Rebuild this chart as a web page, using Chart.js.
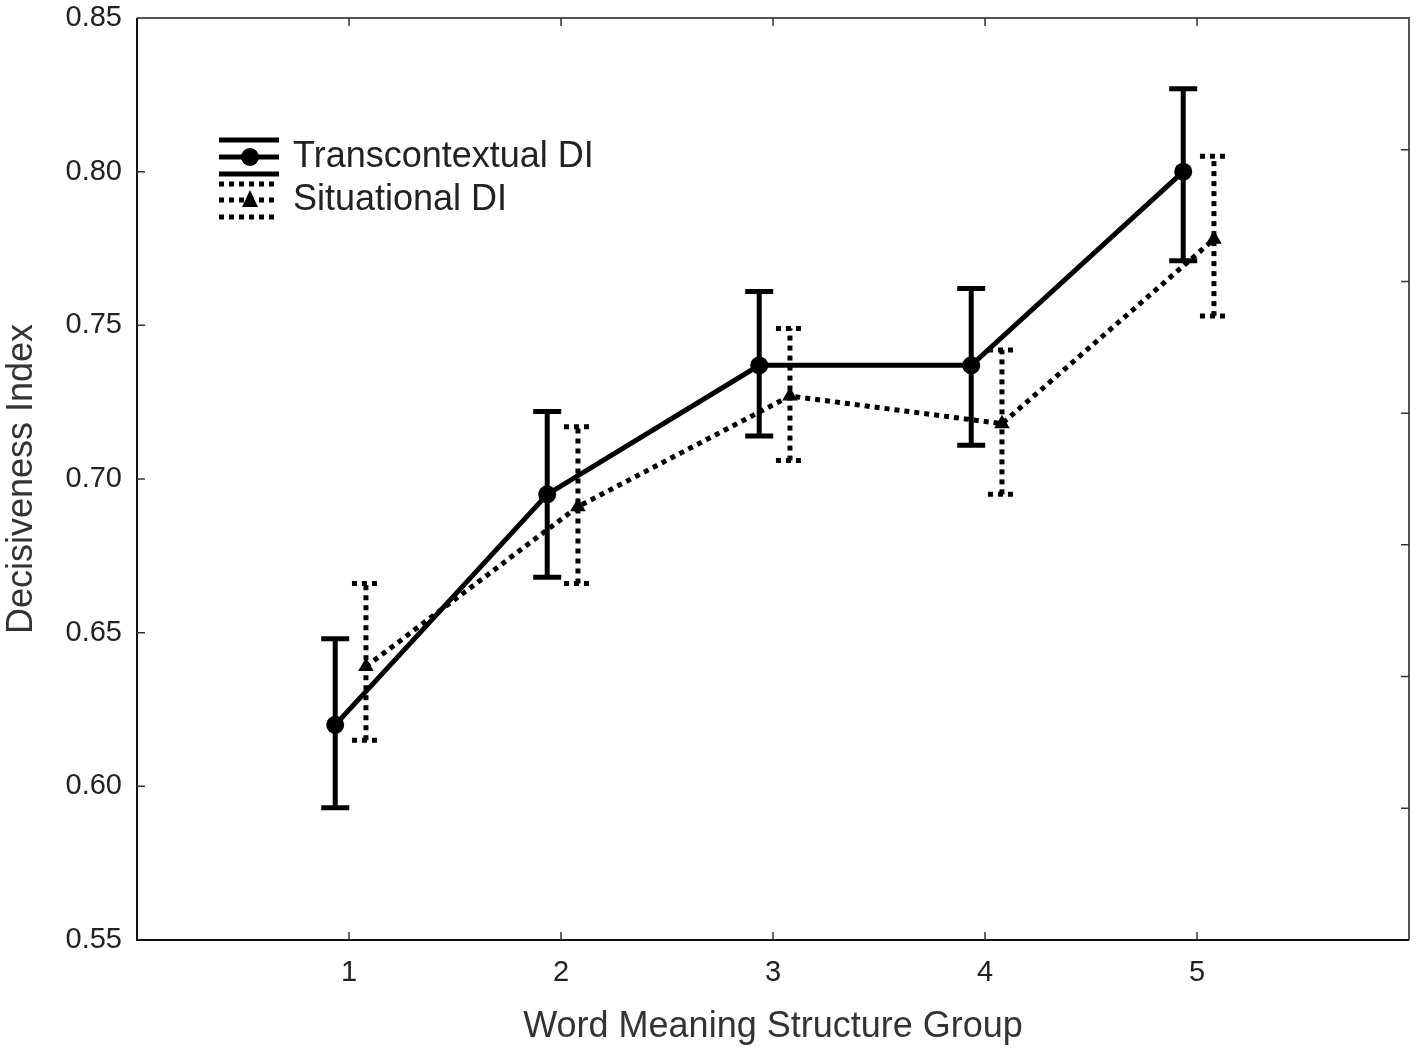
<!DOCTYPE html>
<html>
<head>
<meta charset="utf-8">
<script src="https://cdn.jsdelivr.net/npm/chart.js@4.4.1/dist/chart.umd.min.js"></script>
<style>
  html, body { margin: 0; padding: 0; background: #fff; }
  canvas { display: block; }
</style>
</head>
<body>
<canvas id="chart" width="1418" height="1057"></canvas>
<script>
// Data
const groups = [1, 2, 3, 4, 5];
const yTicks = [0.55, 0.60, 0.65, 0.70, 0.75, 0.80, 0.85];

const transMean = [0.620, 0.695, 0.737, 0.737, 0.800];
const transLow  = [0.593, 0.668, 0.714, 0.711, 0.771];
const transHigh = [0.648, 0.722, 0.761, 0.762, 0.827];

const sitMean = [0.639, 0.691, 0.727, 0.718, 0.778];
const sitLow  = [0.615, 0.666, 0.706, 0.695, 0.753];
const sitHigh = [0.666, 0.717, 0.749, 0.742, 0.805];

// horizontal dodge so the two series do not overlap
const transShift = -0.065;
const sitShift = 0.08;

Chart.defaults.font.family = "'Liberation Sans', Arial, sans-serif";
Chart.defaults.color = '#222';

function points(shift, vals) {
    return groups.map((g, i) => ({ x: g + shift, y: vals[i] }));
}

// error bars, drawn through the scales
const errorBars = {
    id: 'errorBars',
    beforeDatasetsDraw(chart) {
        const ctx = chart.ctx;
        const xs = chart.scales.x, ys = chart.scales.y;
        const sets = [
            { shift: sitShift, lo: sitLow, hi: sitHigh, dash: [5, 5] },
            { shift: transShift, lo: transLow, hi: transHigh, dash: [] }
        ];
        ctx.save();
        ctx.strokeStyle = '#000';
        ctx.lineWidth = 5;
        sets.forEach(s => {
            ctx.setLineDash(s.dash);
            groups.forEach((g, i) => {
                const x = xs.getPixelForValue(g + s.shift);
                const y1 = ys.getPixelForValue(s.lo[i]);
                const y2 = ys.getPixelForValue(s.hi[i]);
                ctx.beginPath();
                ctx.moveTo(x, y1); ctx.lineTo(x, y2);
                ctx.stroke();
                ctx.beginPath();
                ctx.moveTo(x - 14, y1); ctx.lineTo(x + 14, y1);
                ctx.moveTo(x - 14, y2); ctx.lineTo(x + 14, y2);
                ctx.stroke();
            });
        });
        ctx.restore();
    }
};

// frame with inward ticks + legend box
const frame = {
    id: 'frame',
    afterDraw(chart) {
        const ctx = chart.ctx;
        const a = chart.chartArea;
        const xs = chart.scales.x, ys = chart.scales.y, y2 = chart.scales.y2;
        ctx.save();
        ctx.setLineDash([]);
        // top and right border
        ctx.strokeStyle = '#555';
        ctx.lineWidth = 2;
        ctx.beginPath();
        ctx.moveTo(a.left, a.top); ctx.lineTo(a.right, a.top); ctx.lineTo(a.right, a.bottom);
        ctx.stroke();
        // left and bottom border
        ctx.strokeStyle = '#111';
        ctx.beginPath();
        ctx.moveTo(a.left, a.top); ctx.lineTo(a.left, a.bottom); ctx.lineTo(a.right, a.bottom);
        ctx.stroke();
        // inward ticks
        ctx.lineWidth = 1.5;
        ctx.strokeStyle = '#333';
        ctx.beginPath();
        groups.forEach(g => {
            const x = xs.getPixelForValue(g);
            ctx.moveTo(x, a.bottom); ctx.lineTo(x, a.bottom - 8);
            ctx.moveTo(x, a.top); ctx.lineTo(x, a.top + 8);
        });
        yTicks.slice(1, -1).forEach(v => {
            const y = ys.getPixelForValue(v);
            ctx.moveTo(a.left, y); ctx.lineTo(a.left + 8, y);
        });
        y2.ticks.slice(1, -1).forEach(t => {
            const y = y2.getPixelForValue(t.value);
            ctx.moveTo(a.right, y); ctx.lineTo(a.right - 8, y);
        });
        ctx.stroke();

        // legend
        const lx = a.left + 82, tx = a.left + 156;
        const rowY = [157, 200];
        ctx.font = "36px 'Liberation Sans', Arial, sans-serif";
        ctx.fillStyle = '#222';
        ctx.textBaseline = 'middle';
        ctx.fillText('Transcontextual DI', tx, rowY[0]);
        ctx.fillText('Situational DI', tx, rowY[1]);

        ctx.strokeStyle = '#000';
        ctx.fillStyle = '#000';
        ctx.lineWidth = 5;
        ctx.beginPath();
        [-17, 0, 17].forEach(d => { ctx.moveTo(lx, rowY[0] + d); ctx.lineTo(lx + 60, rowY[0] + d); });
        ctx.stroke();
        ctx.beginPath();
        ctx.arc(lx + 31, rowY[0], 9, 0, Math.PI * 2);
        ctx.fill();

        ctx.setLineDash([5, 5]);
        ctx.beginPath();
        [-16, 0, 17].forEach(d => { ctx.moveTo(lx, rowY[1] + d); ctx.lineTo(lx + 60, rowY[1] + d); });
        ctx.stroke();
        ctx.setLineDash([]);
        ctx.beginPath();
        ctx.moveTo(lx + 31, rowY[1] - 10);
        ctx.lineTo(lx + 39, rowY[1] + 7);
        ctx.lineTo(lx + 23, rowY[1] + 7);
        ctx.closePath();
        ctx.fill();
        ctx.restore();
    }
};

const ctx = document.getElementById('chart').getContext('2d');
new Chart(ctx, {
    type: 'scatter',
    data: {
        datasets: [{
            label: 'Transcontextual DI',
            data: points(transShift, transMean),
            showLine: true,
            borderColor: '#000',
            backgroundColor: '#000',
            borderWidth: 5,
            pointStyle: 'circle',
            pointRadius: 9,
            pointBorderWidth: 0
        }, {
            label: 'Situational DI',
            data: points(sitShift, sitMean),
            showLine: true,
            borderColor: '#000',
            backgroundColor: '#000',
            borderWidth: 5,
            borderDash: [5, 5],
            pointStyle: 'triangle',
            pointRadius: 9,
            pointBorderWidth: 0
        }]
    },
    options: {
        responsive: false,
        animation: false,
        devicePixelRatio: 1,
        layout: { padding: { left: 0, top: 18, right: 9, bottom: 0 } },
        plugins: {
            legend: { display: false },
            tooltip: { enabled: false }
        },
        scales: {
            x: {
                type: 'linear',
                min: 0,
                max: 6,
                afterBuildTicks: s => { s.ticks = groups.map(v => ({ value: v })); },
                afterFit: s => { s.height = 117; s.paddingLeft = 0; s.paddingRight = 0; },
                grid: { display: false, drawTicks: false },
                border: { display: false },
                ticks: { padding: 16, font: { size: 29 }, color: '#222' },
                title: {
                    display: true,
                    text: 'Word Meaning Structure Group',
                    font: { size: 36 },
                    color: '#333',
                    padding: { top: 0, bottom: 8 }
                }
            },
            y: {
                min: 0.55,
                max: 0.85,
                afterBuildTicks: s => { s.ticks = yTicks.map(v => ({ value: v })); },
                afterFit: s => { s.width = 137; s.paddingTop = 0; s.paddingBottom = 0; },
                grid: { display: false, drawTicks: false },
                border: { display: false },
                ticks: {
                    padding: 15,
                    font: { size: 29 },
                    color: '#222',
                    callback: v => v.toFixed(2)
                },
                title: {
                    display: true,
                    text: 'Decisiveness Index',
                    font: { size: 36 },
                    color: '#333',
                    padding: { top: 0, bottom: 0 }
                }
            },
            y2: {
                position: 'right',
                display: false,
                min: 0,
                max: 7,
                ticks: { stepSize: 1 }
            }
        }
    },
    plugins: [errorBars, frame]
});
</script>
</body>
</html>
